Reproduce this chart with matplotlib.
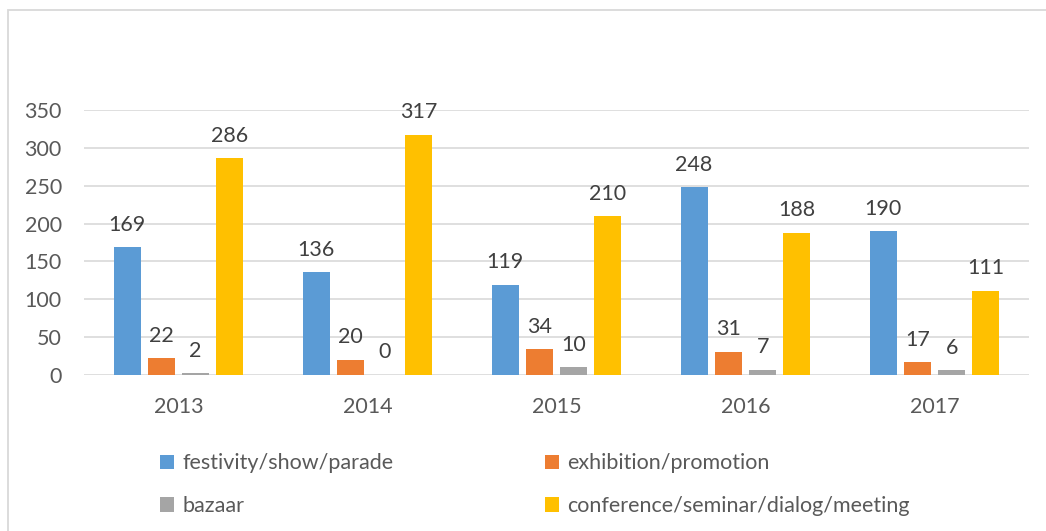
import matplotlib.pyplot as plt
import matplotlib.patches as mpatches
import numpy as np

plt.rcParams['font.family'] = ['Lato', 'DejaVu Sans']

years = ['2013', '2014', '2015', '2016', '2017']
series_names = ['festivity/show/parade', 'exhibition/promotion', 'bazaar',
                'conference/seminar/dialog/meeting']
festivity = [169, 136, 119, 248, 190]
exhibition = [22, 20, 34, 31, 17]
bazaar = [2, 0, 10, 7, 6]
conference = [286, 317, 210, 188, 111]
colors = ['#5B9BD5', '#ED7D31', '#A5A5A5', '#FFC000']

fs = 15.5

fig = plt.figure(figsize=(10.46, 5.31), dpi=100)
ax = fig.add_axes([84 / 1046, 1 - 375 / 531, 945 / 1046, 265 / 531])

# outer chart frame (runs off the right and bottom)
fig.patches.append(mpatches.Rectangle((8 / 1046, -0.1), 1.2, 1 - 10 / 531 + 0.1,
                                      transform=fig.transFigure, fill=False,
                                      edgecolor='#D9D9D9', linewidth=1.3))

x = np.arange(len(years))
step = 34.3 / 189
width = 27 / 189
bars = []
for j, vals in enumerate([festivity, exhibition, bazaar, conference]):
    b = ax.bar(x + (j - 1.5) * step, vals, width, color=colors[j],
               label=series_names[j], zorder=3)
    bars.append(b)
    ax.bar_label(b, labels=[str(v) for v in vals], padding=9, fontsize=fs,
                 color='#404040')

ax.set_xlim(-0.5, 4.5)
ax.set_ylim(0, 350)
ax.set_yticks(range(0, 351, 50))
ax.set_xticks(x)
ax.set_xticklabels(years)
ax.grid(axis='y', color='#D9D9D9', linewidth=1.2, zorder=0)
for s in ax.spines.values():
    s.set_visible(False)
ax.tick_params(axis='both', length=0, labelsize=fs, labelcolor='#595959')
ax.tick_params(axis='y', pad=16)
ax.tick_params(axis='x', pad=16)

# row-major order for a 2-column legend
order = [0, 2, 1, 3]
fig.legend([bars[i] for i in order], [series_names[i] for i in order],
           ncol=2, loc='upper left', bbox_to_anchor=(141 / 1046, 1 - 434 / 531),
           frameon=False, fontsize=fs, labelcolor='#595959',
           handlelength=0.65, handleheight=0.65, handletextpad=0.4,
           columnspacing=7.0, labelspacing=1.05)

fig.savefig('out.png', dpi=100, facecolor='white')
